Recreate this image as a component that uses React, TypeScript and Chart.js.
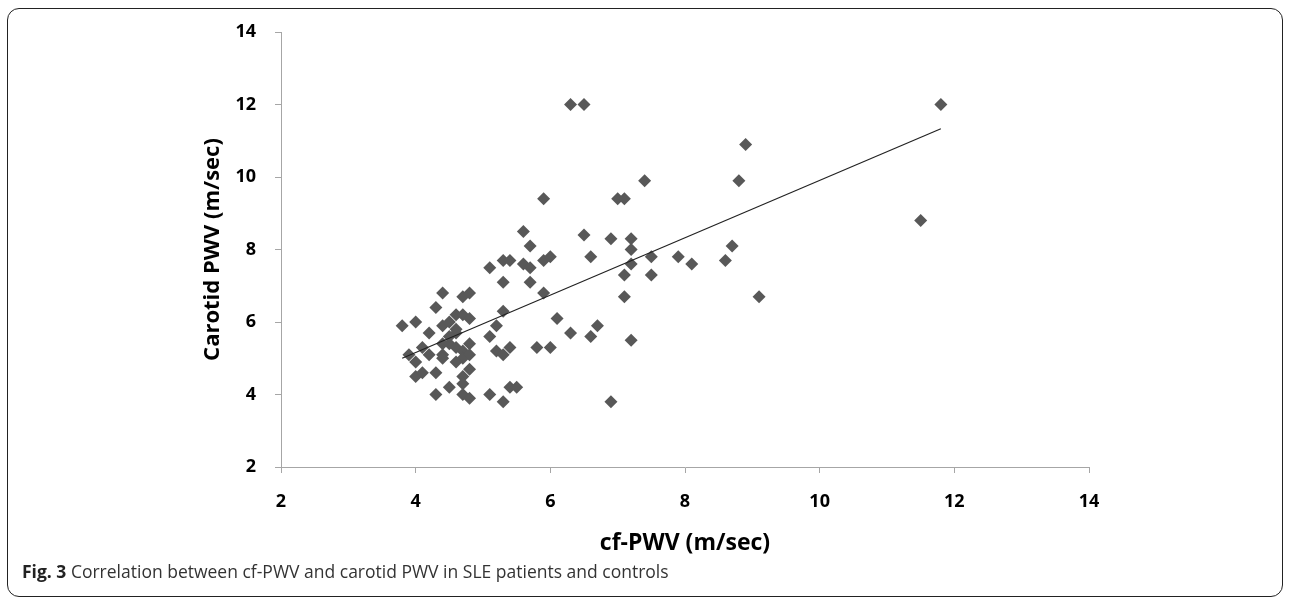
import React, { useEffect, useRef } from "react";
import { Chart, registerables } from "chart.js";

Chart.register(...registerables);

// cf-PWV (m/sec) values
const cfPWV: number[] = [
  3.8, 3.9, 4.0, 4.0, 4.0, 4.1, 4.1, 4.2, 4.2, 4.3,
  4.3, 4.3, 4.4, 4.4, 4.4, 4.4, 4.4, 4.5, 4.5, 4.5,
  4.6, 4.6, 4.6, 4.6, 4.7, 4.7, 4.7, 4.7, 4.7, 4.7,
  4.7, 4.8, 4.8, 4.8, 4.8, 4.8, 4.8, 4.5, 4.6, 5.1,
  5.1, 5.1, 5.2, 5.2, 5.3, 5.3, 5.3, 5.3, 5.3, 5.4,
  5.4, 5.4, 5.5, 5.6, 5.6, 5.7, 5.7, 5.7, 5.8, 5.9,
  5.9, 5.9, 6.0, 6.0, 6.1, 6.3, 6.3, 6.5, 6.5, 6.6,
  6.6, 6.7, 6.9, 6.9, 7.0, 7.1, 7.1, 7.1, 7.2, 7.2,
  7.2, 7.2, 7.4, 7.5, 7.5, 7.9, 8.1, 8.6, 8.7, 8.8,
  8.9, 9.1, 11.5, 11.8,
];

// Carotid PWV (m/sec) values
const carotidPWV: number[] = [
  5.9, 5.1, 6.0, 4.9, 4.5, 4.6, 5.3, 5.1, 5.7, 6.4,
  4.6, 4.0, 6.8, 5.9, 5.4, 5.1, 5.0, 6.0, 5.4, 4.2,
  6.2, 5.7, 5.8, 5.3, 6.7, 6.2, 5.2, 5.0, 4.5, 4.3,
  4.0, 6.8, 6.1, 5.4, 5.1, 4.7, 3.9, 5.6, 4.9, 7.5,
  5.6, 4.0, 5.9, 5.2, 7.7, 7.1, 6.3, 5.1, 3.8, 7.7,
  5.3, 4.2, 4.2, 8.5, 7.6, 8.1, 7.5, 7.1, 5.3, 9.4,
  7.7, 6.8, 7.8, 5.3, 6.1, 12.0, 5.7, 12.0, 8.4, 7.8,
  5.6, 5.9, 8.3, 3.8, 9.4, 9.4, 7.3, 6.7, 8.3, 8.0,
  7.6, 5.5, 9.9, 7.8, 7.3, 7.8, 7.6, 7.7, 8.1, 9.9,
  10.9, 6.7, 8.8, 12.0,
];

// Linear trend line end points
const trendX: number[] = [3.8, 11.8];
const trendY: number[] = [5.0, 11.33];

const tickValues: number[] = [2, 4, 6, 8, 10, 12, 14];

const xTitle = "cf-PWV (m/sec)";
const yTitle = "Carotid PWV (m/sec)";

export default function App() {
  const canvasRef = useRef<HTMLCanvasElement | null>(null);

  useEffect(() => {
    if (!canvasRef.current) return;
    Chart.defaults.font.family = "'Open Sans', sans-serif";
    const points = cfPWV.map((x, i) => ({ x, y: carotidPWV[i] }));
    const trend = trendX.map((x, i) => ({ x, y: trendY[i] }));
    const axisColor = "#a6a6a6";
    const tickFont = { size: 18, weight: "bold" as const, family: "'Open Sans', sans-serif" };
    const xTitleFont = { size: 23, weight: "bold" as const, family: "'Open Sans', sans-serif" };
    const yTitleFont = { size: 22, weight: "bold" as const, family: "'Open Sans', sans-serif" };

    const chart = new Chart(canvasRef.current, {
      type: "scatter",
      data: {
        datasets: [
          {
            type: "line",
            data: trend,
            borderColor: "#222222",
            borderWidth: 1.2,
            pointRadius: 0,
            fill: false,
            order: 0,
          } as any,
          {
            type: "scatter",
            data: points,
            pointStyle: "rectRot",
            pointRadius: 6.5,
            backgroundColor: "#585858",
            borderColor: "#585858",
            borderWidth: 0,
            order: 1,
          },
        ],
      },
      options: {
        animation: false,
        responsive: true,
        maintainAspectRatio: false,
        layout: { padding: { left: 190, right: 201, top: 32, bottom: 40 } },
        plugins: {
          legend: { display: false },
          tooltip: { enabled: false },
        },
        scales: {
          x: {
            type: "linear",
            min: 2,
            max: 14,
            afterBuildTicks: (s: any) => {
              s.ticks = tickValues.map((v) => ({ value: v }));
            },
            ticks: { font: tickFont, color: "#000", padding: 18 },
            border: { color: axisColor, width: 1 },
            grid: { drawOnChartArea: false, drawTicks: true, tickLength: 6, color: axisColor },
            title: {
              display: true,
              text: xTitle,
              font: xTitleFont,
              color: "#000",
              padding: { top: 0, bottom: 4 },
            },
            afterFit: (s: any) => {
              s.height = 94;
            },
          },
          y: {
            type: "linear",
            min: 2,
            max: 14,
            afterBuildTicks: (s: any) => {
              s.ticks = tickValues.map((v) => ({ value: v }));
            },
            ticks: { font: tickFont, color: "#000", padding: 19 },
            border: { color: axisColor, width: 1 },
            grid: { drawOnChartArea: false, drawTicks: true, tickLength: 6, color: axisColor },
            title: {
              display: true,
              text: yTitle,
              font: yTitleFont,
              color: "#000",
              padding: { top: 10, bottom: 0 },
            },
            afterFit: (s: any) => {
              s.width = 91;
            },
          },
        },
      },
    });
    return () => chart.destroy();
  }, []);

  return (
    <div
      style={{
        position: "absolute",
        left: 0,
        top: 0,
        width: 1290,
        height: 601,
        background: "#fff",
        overflow: "hidden",
      }}
    >
      <div
        style={{
          position: "absolute",
          left: 7,
          top: 8,
          width: 1276,
          height: 589,
          boxSizing: "border-box",
          border: "1.5px solid #222",
          borderRadius: 12,
        }}
      />
      <div style={{ position: "absolute", left: 0, top: 0, width: 1290, height: 601 }}>
        <canvas ref={canvasRef} />
      </div>
      <div
        style={{
          position: "absolute",
          left: 22,
          top: 559,
          fontFamily: "'Open Sans', sans-serif",
          fontSize: 17.5,
          color: "#333",
          whiteSpace: "nowrap",
        }}
      >
        <b style={{ color: "#222" }}>Fig. 3</b> Correlation between cf-PWV and carotid PWV in SLE patients and controls
      </div>
    </div>
  );
}
